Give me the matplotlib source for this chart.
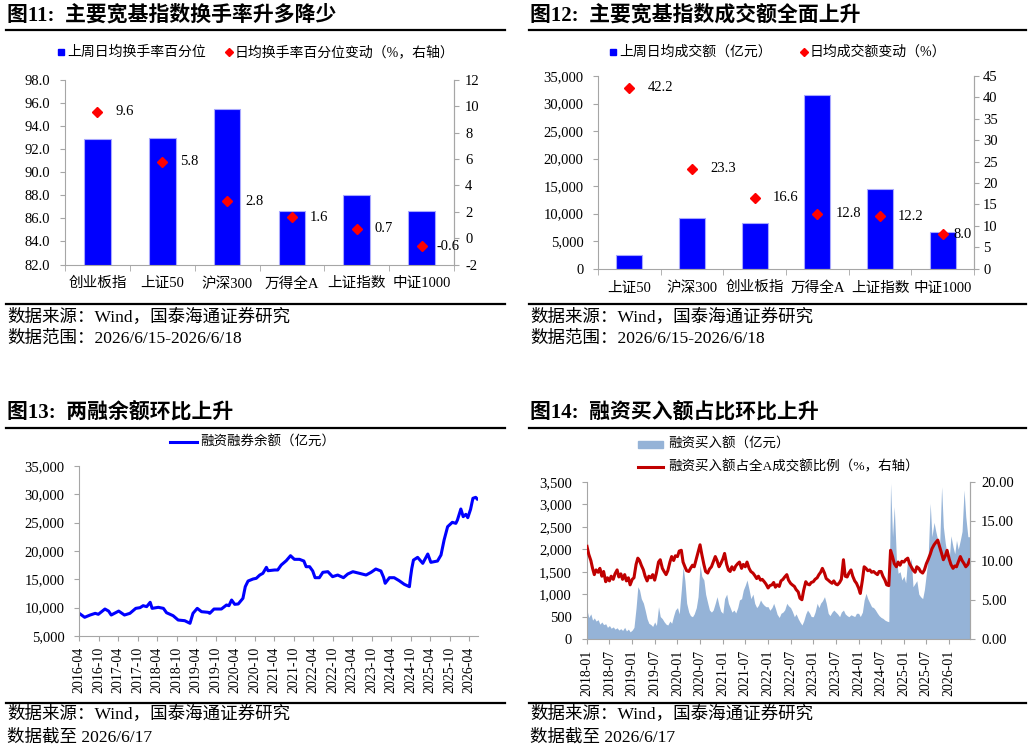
import matplotlib
matplotlib.use('Agg')
import matplotlib.pyplot as plt
import matplotlib.dates as mdates
from matplotlib.lines import Line2D
from matplotlib.patches import Rectangle
from matplotlib.ticker import FuncFormatter, MultipleLocator
import numpy as np
import pandas as pd

plt.rcParams['font.family'] = ['Liberation Serif', 'Noto Sans CJK SC']
plt.rcParams['axes.unicode_minus'] = False

# ---- 图11 换手率 ----
turnover_cats = ['创业板指', '上证50', '沪深300', '万得全A', '上证指数', '中证1000']
turnover_pct = [92.9, 93.0, 95.5, 86.6, 88.0, 86.6]
turnover_chg = [9.6, 5.8, 2.8, 1.6, 0.7, -0.6]

# ---- 图12 成交额 ----
amount_cats = ['上证50', '沪深300', '创业板指', '万得全A', '上证指数', '中证1000']
amount_val = [2450, 9150, 8300, 31500, 14400, 6650]
amount_chg = [42.2, 23.3, 16.6, 12.8, 12.2, 8.0]

# ---- 图13 两融余额 ----
margin_dates = ['2016-04-01', '2016-05-22', '2016-07-12', '2016-08-29', '2016-09-27', '2016-11-28',
                '2017-01-01', '2017-01-26', '2017-04-06', '2017-05-30', '2017-07-20', '2017-09-13',
                '2017-10-23', '2017-11-21', '2017-12-24', '2018-01-26', '2018-02-13', '2018-04-12',
                '2018-05-30', '2018-06-28', '2018-08-29', '2018-10-15', '2018-12-16', '2019-02-03',
                '2019-03-03', '2019-04-12', '2019-05-22', '2019-07-23', '2019-08-07', '2019-09-16',
                '2019-11-24', '2020-01-11', '2020-02-03', '2020-02-28', '2020-03-28', '2020-04-30',
                '2020-06-13', '2020-07-05', '2020-07-31', '2020-09-16', '2020-10-16', '2020-11-18',
                '2020-12-17', '2021-01-19', '2021-02-03', '2021-04-06', '2021-05-05', '2021-06-07',
                '2021-07-24', '2021-09-02', '2021-10-08', '2021-11-25', '2022-01-05', '2022-01-26',
                '2022-02-28', '2022-03-29', '2022-04-20', '2022-05-30', '2022-07-02', '2022-08-18',
                '2022-10-01', '2022-11-18', '2023-01-11', '2023-02-20', '2023-04-09', '2023-06-10',
                '2023-08-11', '2023-09-27', '2023-11-10', '2023-12-28', '2024-01-22', '2024-02-06',
                '2024-03-17', '2024-04-30', '2024-06-16', '2024-08-03', '2024-09-20', '2024-09-30',
                '2024-10-12', '2024-10-28', '2024-12-06', '2025-01-23', '2025-03-11', '2025-04-09',
                '2025-06-10', '2025-07-13', '2025-08-11', '2025-09-13', '2025-10-27', '2025-11-29',
                '2025-12-14', '2026-01-15', '2026-02-06', '2026-03-03', '2026-03-21', '2026-04-16',
                '2026-05-08', '2026-06-03', '2026-06-17']
margin_bal = [9000, 8300, 8700, 9000, 8830, 9760,
              9400, 8700, 9400, 8700, 9000, 9880,
              10000, 10350, 10180, 10950, 9880, 10060,
              9880, 9110, 8580, 7820, 7700, 7240,
              9000, 9880, 9290, 9180, 9000, 9760,
              9760, 10470, 10350, 11350, 10590, 10650,
              11650, 13700, 14700, 15060, 15180, 15760,
              16060, 17120, 16520, 16650, 16650, 17530,
              18290, 19170, 18530, 18530, 18230, 17230,
              17230, 16470, 15290, 15290, 16240, 16350,
              15470, 15760, 15290, 15940, 16350, 16060,
              15760, 16240, 16820, 16470, 15350, 14300,
              15290, 15290, 14760, 14120, 13700, 15300,
              16900, 18400, 18880, 17820, 19470, 18000,
              18230, 19290, 21940, 24290, 25060, 24880,
              25470, 27410, 26060, 26470, 25880, 27350,
              29300, 29470, 29180]

# ---- 图14 融资买入额（半月读数，2018-01 至 2026-06）----
buy_start, buy_end = '2018-01-01', '2026-06-15'
buy_amt = [
    650, 480, 560, 420, 470, 400, 430, 330, 380, 320, 340, 260,
    300, 240, 270, 220, 250, 200, 230, 190, 260, 180, 220, 160,    # 2018
    200, 260, 700, 1165, 1090, 900, 800, 645, 450, 350, 320, 280,
    380, 300, 720, 500, 450, 385, 330, 312, 400, 350, 520, 645,    # 2019
    700, 560, 1100, 1610, 1300, 800, 600, 520, 497, 560, 700, 943,
    1650, 1400, 1315, 1000, 800, 645, 600, 645, 800, 943, 750, 620,  # 2020
    573, 900, 1000, 795, 700, 600, 645, 580, 700, 870, 900, 1090,
    1200, 1315, 1100, 900, 1000, 795, 700, 750, 870, 800, 750, 720,  # 2021
    720, 640, 700, 795, 683, 550, 480, 573, 600, 650, 795, 740,
    700, 620, 497, 560, 450, 380, 312, 400, 560, 645, 580, 500,    # 2022
    497, 600, 795, 700, 800, 850, 943, 800, 573, 520, 600, 645,
    600, 560, 497, 600, 645, 560, 520, 497, 540, 520, 500, 573,    # 2023
    573, 500, 600, 870, 1018, 900, 800, 720, 700, 650, 573, 520,
    480, 460, 420, 400, 385, 3470, 2280, 2950, 1800, 1465, 1500, 1315,  # 2024
    1400, 1250, 1835, 1600, 1800, 1165, 1240, 1300, 1000, 943, 900, 1100,
    1465, 1800, 3025, 2280, 2600, 2400, 2205, 2000, 3395, 2500, 2130, 1900,  # 2025
    1760, 2300, 2055, 1900, 2200, 2000, 2205, 2400, 3320, 2725, 2280, 2280,  # 2026
]
ratio_pct = [
    11.8, 10.8, 10.0, 9.0, 8.2, 8.8, 8.5, 9.0, 8.0, 8.6, 7.3, 7.8,
    7.4, 8.0, 7.6, 8.3, 8.8, 7.9, 8.3, 7.6, 8.2, 7.4, 7.8, 6.9,    # 2018
    7.6, 7.8, 9.5, 10.3, 10.0, 9.4, 8.8, 8.0, 7.4, 8.0, 7.8, 8.2,
    7.5, 8.4, 9.8, 10.1, 9.0, 8.6, 8.2, 8.7, 9.8, 10.5, 10.0, 10.6,  # 2019
    10.5, 11.2, 11.3, 9.8, 9.2, 8.7, 8.6, 9.0, 9.4, 9.2, 10.2, 11.0,
    12.0, 10.8, 9.5, 8.6, 8.4, 8.9, 9.2, 9.8, 10.5, 10.0, 9.2, 9.6,  # 2020
    10.2, 10.9, 9.5, 8.8, 8.6, 9.2, 8.8, 9.3, 9.6, 9.8, 9.0, 9.5,
    9.2, 9.8, 9.0, 8.6, 8.4, 8.1, 7.7, 8.0, 7.5, 7.6, 7.3, 7.0,    # 2021
    6.5, 6.8, 6.9, 7.2, 6.6, 6.9, 6.7, 7.4, 7.6, 7.9, 8.2, 7.5,
    7.1, 6.9, 6.7, 6.3, 6.0, 5.2, 5.0, 6.2, 7.3, 7.0, 6.9, 7.2,    # 2022
    7.3, 7.6, 7.8, 8.2, 8.5, 9.0, 8.4, 7.7, 7.5, 7.3, 7.1, 7.4,
    7.0, 6.9, 7.2, 7.6, 10.1, 8.0, 7.9, 8.4, 8.8, 8.0, 7.4, 7.1,   # 2023
    6.5, 5.8, 7.5, 9.2, 9.0, 8.7, 8.8, 8.5, 8.6, 8.4, 8.2, 8.6,
    8.6, 8.0, 7.5, 6.9, 6.8, 11.3, 10.5, 9.6, 9.2, 9.8, 9.4, 9.9,  # 2024
    9.8, 10.1, 10.3, 9.6, 9.2, 8.8, 8.5, 9.2, 9.0, 8.6, 8.4, 8.8,
    9.6, 10.1, 10.8, 11.5, 12.0, 12.3, 12.6, 11.8, 10.9, 10.1, 10.6, 11.3,  # 2025
    10.2, 9.5, 9.0, 9.3, 9.2, 9.8, 10.5, 10.0, 9.6, 9.2, 9.5, 10.1,  # 2026
]

W, H = 1032, 750
GRAY = '#A6A6A6'
BLUE = '#0000FF'
RED = '#FF0000'
DARKRED = '#C00000'
FILL = '#95B3D7'


def fx(px):
    return px / W


def fy(py):
    return 1 - py / H


def rect(x0, y0, x1, y1):
    # pixel box (top-left origin) -> figure fraction box
    return [fx(x0), fy(y1), (x1 - x0) / W, (y1 - y0) / H]


fig = plt.figure(figsize=(W / 100, H / 100), dpi=100)


def hline(x0, x1, y):
    fig.add_artist(Line2D([fx(x0), fx(x1)], [fy(y), fy(y)], color='black', lw=1.6,
                          transform=fig.transFigure))


def header(x0, x1, y_title, y_line, title):
    fig.text(fx(x0 + 1), fy(y_title), title, fontsize=15, fontweight='bold', va='center', ha='left')
    hline(x0, x1, y_line)


def footer(x0, x1, y_line, y1, y2, second):
    hline(x0, x1, y_line)
    fig.text(fx(x0 + 1), fy(y1), '数据来源：Wind，国泰海通证券研究', fontsize=12.6, va='center')
    fig.text(fx(x0 + 1), fy(y2), second, fontsize=12.6, va='center')


def gray_axes(ax, sides):
    for name, sp in ax.spines.items():
        sp.set_color(GRAY)
        sp.set_visible(name in sides)
    ax.tick_params(colors=GRAY, labelcolor='black', length=3.5, width=0.8)


def legend_square(x, y, label):
    fig.add_artist(Rectangle((fx(x - 3), fy(y + 3)), 6 / W, 6 / H, color=BLUE, transform=fig.transFigure))
    fig.text(fx(x + 6), fy(y), label, fontsize=10, va='center')


def legend_diamond(x, y, label):
    fig.add_artist(Line2D([fx(x)], [fy(y)], marker='D', ms=4.5, color=RED, ls='none',
                          transform=fig.transFigure))
    fig.text(fx(x + 6), fy(y), label, fontsize=10, va='center')


def bar_panel(box, cats, bars, changes, lmax, lmin, lstep, rmax, rmin, rstep, lfmt, rfmt, lpad, rpad,
              offsets):
    ax = fig.add_axes(box)
    x = np.arange(len(cats))
    ax.bar(x, bars, width=0.41, color=BLUE, edgecolor='#A8A8FF', lw=0.8, zorder=2)
    ax.set_xlim(-0.5, len(cats) - 0.5)
    ax.set_ylim(lmin, lmax)
    ax.yaxis.set_major_locator(MultipleLocator(lstep))
    ax.yaxis.set_major_formatter(FuncFormatter(lfmt))
    ax.set_xticks(x)
    ax.set_xticklabels(cats, fontsize=10.5)
    ax.set_xticks(np.arange(len(cats) + 1) - 0.5, minor=True)
    gray_axes(ax, ['left', 'bottom', 'right'])
    ax.tick_params(axis='x', which='major', length=0, pad=9)
    ax.tick_params(axis='x', which='minor', length=4, color=GRAY)
    ax.tick_params(axis='y', labelsize=10.5, pad=lpad)

    ax2 = ax.twinx()
    ax2.plot(x, changes, ls='none', marker='D', ms=5.5, color=RED, zorder=3)
    ax2.set_ylim(rmin, rmax)
    ax2.yaxis.set_major_locator(MultipleLocator(rstep))
    ax2.yaxis.set_major_formatter(FuncFormatter(rfmt))
    gray_axes(ax2, ['right'])
    ax2.tick_params(axis='y', labelsize=10.5, pad=rpad)
    for xi, v, off in zip(x, changes, offsets):
        ax2.annotate(f'{v:.1f}', (xi, v), xytext=(off, 0), textcoords='offset points',
                     va='center', ha='left', fontsize=10.5)
    return ax, ax2


# ---------------- 图11 ----------------
header(6, 505, 15, 30, '图11:  主要宽基指数换手率升多降少')
legend_square(61, 52, '上周日均换手率百分位')
legend_diamond(229, 52, '日均换手率百分位变动（%，右轴）')
bar_panel(rect(65, 80, 454, 264.5), turnover_cats, turnover_pct, turnover_chg,
          98, 82, 2, 12, -2, 2,
          lambda v, p: f'{v:.1f}', lambda v, p: f'{v:.0f}', 7, 4.5,
          [13, 13, 13, 13, 13, 11])
footer(6, 505, 304, 317, 339, '数据范围：2026/6/15-2026/6/18')

# ---------------- 图12 ----------------
header(529, 1026, 15, 30, '图12:  主要宽基指数成交额全面上升')
legend_square(613, 52, '上周日均成交额（亿元）')
legend_diamond(804, 52, '日均成交额变动（%）')
bar_panel(rect(598, 76, 974, 268.7), amount_cats, amount_val, amount_chg,
          35000, 0, 5000, 45, 0, 5,
          lambda v, p: f'{v:,.0f}', lambda v, p: f'{v:.0f}', 7, 3,
          [13, 13, 13, 13, 13, 8])
footer(529, 1026, 304, 317, 339, '数据范围：2026/6/15-2026/6/18')

# ---------------- 图13 ----------------
header(6, 505, 413, 428, '图13:  两融余额环比上升')
fig.add_artist(Line2D([fx(170), fx(197)], [fy(442), fy(442)], color=BLUE, lw=2.2,
                      transform=fig.transFigure))
fig.text(fx(200), fy(442), '融资融券余额（亿元）', fontsize=9.7, va='center')

ax3 = fig.add_axes(rect(79, 466, 477.5, 636))
ax3.plot(pd.to_datetime(margin_dates), margin_bal, color=BLUE, lw=2.2)
ax3.set_ylim(5000, 35000)
ax3.yaxis.set_major_locator(MultipleLocator(5000))
ax3.yaxis.set_major_formatter(FuncFormatter(lambda v, p: f'{v:,.0f}'))
ax3.set_xlim(pd.Timestamp('2016-03-30'), pd.Timestamp('2026-06-20'))
ax3.xaxis.set_major_locator(mdates.MonthLocator(bymonth=[4, 10]))
ax3.xaxis.set_major_formatter(mdates.DateFormatter('%Y-%m'))
gray_axes(ax3, ['left', 'bottom'])
ax3.tick_params(axis='y', labelsize=10.5, pad=7)
ax3.tick_params(axis='x', labelsize=10, rotation=90, pad=4)
footer(6, 505, 703, 714, 737, '数据截至 2026/6/17')

# ---------------- 图14 ----------------
header(529, 1026, 413, 428, '图14:  融资买入额占比环比上升')
fig.add_artist(Rectangle((fx(638), fy(447.5)), 25 / W, 7 / H, color=FILL, transform=fig.transFigure))
fig.text(fx(668), fy(444), '融资买入额（亿元）', fontsize=9.7, va='center')
fig.add_artist(Line2D([fx(638), fx(663)], [fy(467), fy(467)], color=DARKRED, lw=2.2,
                      transform=fig.transFigure))
fig.text(fx(668), fy(467), '融资买入额占全A成交额比例（%，右轴）', fontsize=9.7, va='center')

buy_dates = pd.date_range(buy_start, buy_end, freq='SMS')

ax4 = fig.add_axes(rect(587, 482, 970, 639))
ax4.fill_between(buy_dates, buy_amt, 0, color=FILL, lw=0)
ax4.set_ylim(0, 3500)
ax4.yaxis.set_major_locator(MultipleLocator(500))
ax4.yaxis.set_major_formatter(FuncFormatter(lambda v, p: f'{v:,.0f}'))
ax4.set_xlim(pd.Timestamp('2018-01-01'), pd.Timestamp('2026-06-18'))
ax4.xaxis.set_major_locator(mdates.MonthLocator(bymonth=[1, 7]))
ax4.xaxis.set_major_formatter(mdates.DateFormatter('%Y-%m'))
gray_axes(ax4, ['left', 'bottom', 'right'])
ax4.tick_params(axis='y', labelsize=10.5, pad=7.5)
ax4.tick_params(axis='x', labelsize=10, rotation=90, pad=4)

ax4b = ax4.twinx()
ax4b.plot(buy_dates, ratio_pct, color=DARKRED, lw=2.2)
ax4b.set_ylim(0, 20)
ax4b.yaxis.set_major_locator(MultipleLocator(5))
ax4b.yaxis.set_major_formatter(FuncFormatter(lambda v, p: f'{v:.2f}'))
gray_axes(ax4b, ['right'])
ax4b.tick_params(axis='y', labelsize=10.5, pad=4.5)
footer(529, 1026, 703, 714, 737, '数据截至 2026/6/17')

fig.savefig('out.png', dpi=100)
